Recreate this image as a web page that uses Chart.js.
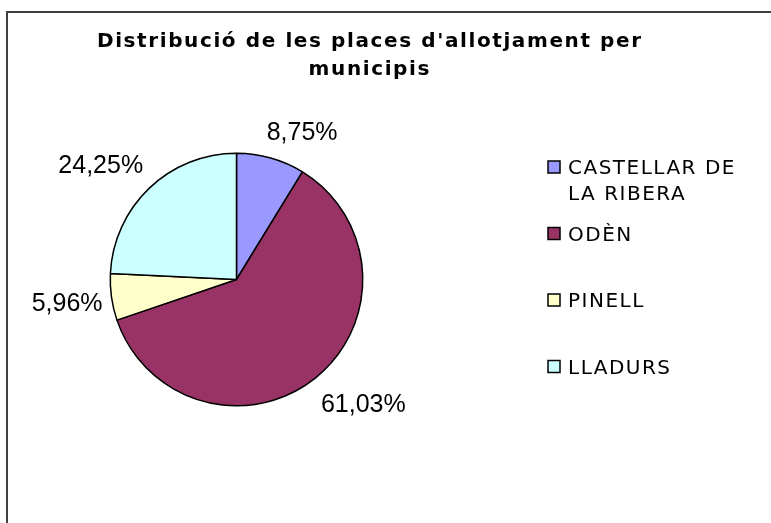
<!DOCTYPE html>
<html><head><meta charset="utf-8">
<script src="https://cdn.jsdelivr.net/npm/chart.js@4"></script>
<style>html,body{margin:0;padding:0;background:#fff;overflow:hidden}#wrap{position:relative;width:771px;height:523px}</style>
</head><body><div id="wrap"><canvas id="c" width="771" height="523"></canvas></div>
<script>
const titleLines = ["Distribució de les places d'allotjament per", "municipis"];
const categories = ["CASTELLAR DE LA RIBERA", "ODÈN", "PINELL", "LLADURS"];
const shares = [8.75, 61.03, 5.96, 24.25];
const sliceColors = ["#9999FF", "#993366", "#FFFFCC", "#CCFFFF"];

function fmtPct(v){ return v.toFixed(2).replace('.', ',') + '%'; }
function clamp(v){ return Math.max(-1, Math.min(1, v)); }

const decorPlugin = {
  id: 'decor',
  beforeDraw(chart){
    const ctx = chart.ctx;
    ctx.save();
    ctx.strokeStyle = '#404040';
    ctx.lineWidth = 2;
    ctx.beginPath();
    ctx.moveTo(7, 530); ctx.lineTo(7, 12); ctx.lineTo(780, 12);
    ctx.stroke();
    // title
    ctx.fillStyle = '#000';
    ctx.font = 'bold 20px "DejaVu Sans"';
    try { ctx.letterSpacing = '1.6px'; } catch(e) {}
    ctx.textAlign = 'left';
    ctx.textBaseline = 'alphabetic';
    const cxT = 369;
    titleLines.forEach((ln, k) => {
      const w = ctx.measureText(ln).width - 1.6;
      ctx.fillText(ln, cxT - w / 2, 47 + k * 28);
    });
    ctx.restore();
  },
  afterDatasetsDraw(chart){
    const ctx = chart.ctx;
    const meta = chart.getDatasetMeta(0);
    const ds = chart.data.datasets[0];
    ctx.save();
    // percentage labels
    ctx.font = '25px "Liberation Sans", Arial, sans-serif';
    ctx.fillStyle = '#000';
    ctx.textAlign = 'center';
    ctx.textBaseline = 'alphabetic';
    meta.data.forEach((arc, i) => {
      const mid = (arc.startAngle + arc.endAngle) / 2;
      const dx = Math.cos(mid), dy = Math.sin(mid);
      const rr = arc.outerRadius + 9;
      const px = arc.x + rr * dx, py = arc.y + rr * dy;
      const txt = fmtPct(ds.data[i]);
      const w = ctx.measureText(txt).width;
      const cx = px + clamp(3 * dx) * w / 2;
      const cy = py + clamp(1.5 * dy) * 18;
      ctx.fillText(txt, cx, cy + 9);
    });
    // legend
    ctx.font = '20px "DejaVu Sans"';
    try { ctx.letterSpacing = '1.5px'; } catch(e) {}
    ctx.textAlign = 'left';
    const maxW = 186;
    chart.data.labels.forEach((lab, i) => {
      const words = lab.split(' ');
      const lines = [];
      let cur = '';
      words.forEach(wd => {
        const t = cur ? cur + ' ' + wd : wd;
        if (cur && ctx.measureText(t).width > maxW) { lines.push(cur); cur = wd; }
        else cur = t;
      });
      if (cur) lines.push(cur);
      const base = 174 + i * 66.5;
      ctx.fillStyle = ds.backgroundColor[i];
      ctx.fillRect(548, base - 13, 12, 12);
      ctx.strokeStyle = '#000';
      ctx.lineWidth = 1.5;
      ctx.strokeRect(548, base - 13, 12, 12);
      ctx.fillStyle = '#000';
      lines.forEach((ln, k) => ctx.fillText(ln, 568, base + k * 26));
    });
    ctx.restore();
  }
};

new Chart(document.getElementById('c'), {
  type: 'pie',
  data: {
    labels: categories,
    datasets: [{
      data: shares,
      backgroundColor: sliceColors,
      borderColor: '#000',
      borderWidth: 1.5
    }]
  },
  options: {
    responsive: false,
    animation: false,
    devicePixelRatio: 1,
    layout: { padding: { left: 109.5, right: 407.5, top: 152.5, bottom: 116.5 } },
    plugins: { legend: { display: false }, tooltip: { enabled: false }, title: { display: false } }
  },
  plugins: [decorPlugin]
});
</script></body></html>
